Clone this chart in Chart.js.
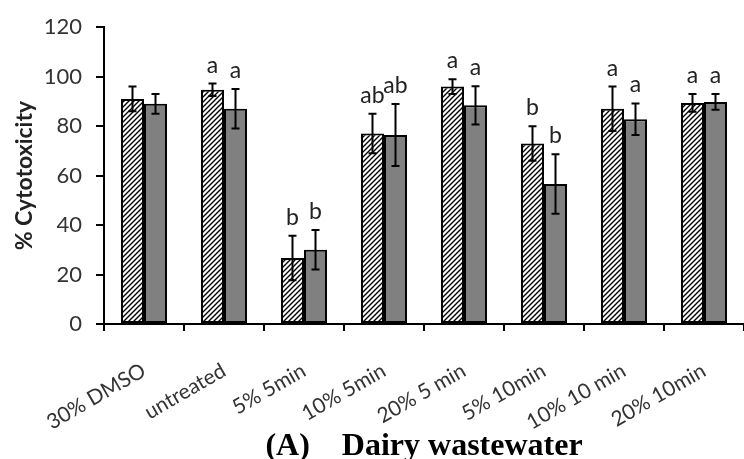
<!DOCTYPE html>
<html>
<head>
<meta charset="utf-8">
<script src="https://cdn.jsdelivr.net/npm/chart.js@4/dist/chart.umd.min.js"></script>
<style>
  html, body { margin: 0; padding: 0; background: #fff; }
  canvas { display: block; }
</style>
</head>
<body>
<canvas id="c" width="744" height="459"></canvas>
<script>
const categories = ['30% DMSO', 'untreated', '5% 5min', '10% 5min', '20% 5 min', '5% 10min', '10% 10 min', '20% 10min'];
const hatchedValues = [91, 94.7, 26.7, 77, 96, 73, 87, 89.4];
const hatchedErrors = [5, 2.5, 9, 8, 3, 7, 9, 3.6];
const grayValues = [89, 87, 30, 76.4, 88.4, 56.6, 82.8, 89.8];
const grayErrors = [4, 8, 8, 12.5, 7.7, 12, 6.4, 3.2];
const hatchedLetters = ['', 'a', 'b', 'ab', 'a', 'b', 'a', 'a'];
const grayLetters = ['', 'a', 'b', 'ab', 'a', 'b', 'a', 'a'];
const yTicks = [0, 20, 40, 60, 80, 100, 120];
const yTitle = '% Cytotoxicity';
const chartTitle = '(A)    Dairy wastewater';

function makeHatch() {
  const s = 5;
  const c = document.createElement('canvas');
  c.width = s; c.height = s;
  const g = c.getContext('2d');
  g.fillStyle = '#fff';
  g.fillRect(0, 0, s, s);
  g.strokeStyle = '#000';
  g.lineWidth = 1.4;
  g.beginPath();
  g.moveTo(-1, s + 1); g.lineTo(s + 1, -1);
  g.moveTo(-1, 1); g.lineTo(1, -1);
  g.moveTo(s - 1, s + 1); g.lineTo(s + 1, s - 1);
  g.stroke();
  return g.createPattern(c, 'repeat');
}

const errorData = [hatchedErrors, grayErrors];
const letterData = [hatchedLetters, grayLetters];

const errorBarPlugin = {
  id: 'errorBars',
  afterDatasetsDraw(chart) {
    const ctx = chart.ctx;
    const y = chart.scales.y;
    ctx.save();
    chart.data.datasets.forEach((ds, i) => {
      const meta = chart.getDatasetMeta(i);
      meta.data.forEach((el, j) => {
        const v = ds.data[j];
        const e = errorData[i][j];
        const top = y.getPixelForValue(v + e);
        const bot = y.getPixelForValue(v - e);
        const x = el.x;
        ctx.strokeStyle = '#000';
        ctx.lineWidth = 2;
        ctx.beginPath();
        ctx.moveTo(x, top); ctx.lineTo(x, bot);
        ctx.moveTo(x - 4, top); ctx.lineTo(x + 4, top);
        ctx.moveTo(x - 4, bot); ctx.lineTo(x + 4, bot);
        ctx.stroke();
        const L = letterData[i][j];
        if (L) {
          ctx.fillStyle = '#222';
          ctx.font = '23px Lato';
          ctx.textAlign = 'center';
          ctx.textBaseline = 'alphabetic';
          ctx.fillText(L, x, top - 11);
        }
      });
    });
    ctx.restore();
  }
};

const ctx = document.getElementById('c').getContext('2d');
new Chart(ctx, {
  type: 'bar',
  data: {
    labels: categories,
    datasets: [
      {
        data: hatchedValues,
        backgroundColor: makeHatch(),
        borderColor: '#000',
        borderWidth: 2,
        borderSkipped: false,
        categoryPercentage: 0.575,
        barPercentage: 1.0
      },
      {
        data: grayValues,
        backgroundColor: '#808080',
        borderColor: '#000',
        borderWidth: 2,
        borderSkipped: false,
        categoryPercentage: 0.575,
        barPercentage: 1.0
      }
    ]
  },
  options: {
    responsive: false,
    animation: false,
    layout: { padding: { top: 21, right: 0, bottom: 0, left: 0 } },
    plugins: {
      legend: { display: false },
      tooltip: { enabled: false }
    },
    scales: {
      y: {
        min: 0,
        max: 120,
        afterBuildTicks(scale) { scale.ticks = yTicks.map(v => ({ value: v })); },
        afterFit(scale) { scale.width = 104; },
        border: { display: true, color: '#000', width: 2 },
        grid: { drawOnChartArea: false, drawTicks: true, tickLength: 8, color: '#000', lineWidth: 2 },
        ticks: { color: '#333', font: { family: 'Lato', size: 22 }, padding: 14 },
        title: {
          display: true,
          text: yTitle,
          color: '#222',
          font: { family: 'Lato', size: 23, weight: 'bold' },
          padding: { top: 11, bottom: 0 }
        }
      },
      x: {
        afterFit(scale) {
          scale.height = 135;
          scale.paddingLeft = 0;
          scale.paddingRight = 0;
        },
        border: { display: true, color: '#000', width: 2 },
        grid: { offset: true, drawOnChartArea: false, drawTicks: true, tickLength: 7, color: '#000', lineWidth: 2 },
        ticks: {
          color: '#333',
          font: { family: 'Lato', size: 21 },
          maxRotation: 30,
          minRotation: 30,
          autoSkip: false,
          padding: 27
        },
        title: {
          display: true,
          text: chartTitle,
          color: '#000',
          font: { family: 'Liberation Serif', size: 32, weight: 'bold', lineHeight: 0.75 },
          padding: { top: 0, bottom: 0 }
        }
      }
    }
  },
  plugins: [errorBarPlugin]
});
</script>
</body>
</html>
